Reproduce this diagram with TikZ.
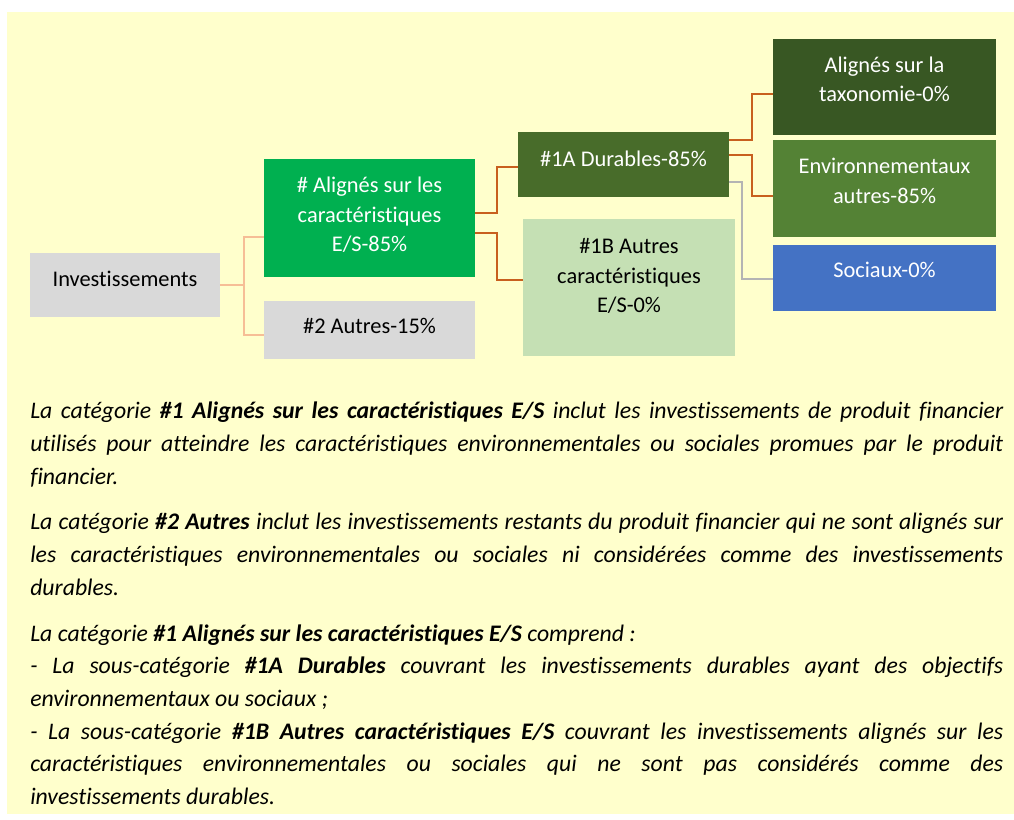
\documentclass[tikz,border=0pt]{standalone}
\usepackage{fontspec}
\setmainfont{Carlito}[Ligatures=NoCommon]
\usepackage{tikz}
\usetikzlibrary{calc}
\definecolor{PaleYellow}{RGB}{255,255,204}
\definecolor{BoxGrey}{RGB}{217,217,217}
\definecolor{BrightGreen}{RGB}{0,176,80}
\definecolor{MossGreen}{RGB}{72,108,42}
\definecolor{DeepGreen}{RGB}{56,87,35}
\definecolor{LeafGreen}{RGB}{84,130,53}
\definecolor{SkyBlue}{RGB}{68,114,196}
\definecolor{MintGreen}{RGB}{197,224,180}
\definecolor{PeachLine}{RGB}{246,190,150}
\definecolor{RustLine}{RGB}{200,96,30}
\definecolor{GreyLine}{RGB}{180,180,180}
\newcommand{\boxfoot}[1][9.3pt]{\rule[-#1]{0pt}{0pt}}

\begin{document}
\begin{tikzpicture}[x=0.75pt, y=-0.75pt,
    catbox/.style={rectangle, inner sep=0pt, align=center,
      font=\fontsize{16.8}{22.1}\selectfont},
    peachline/.style={PeachLine, line width=1.4pt},
    rustline/.style={RustLine, line width=1.4pt},
    greyline/.style={GreyLine, line width=1.2pt},
    notes/.style={anchor=north west, inner sep=0pt, text width=729.75pt,
      align=justify, font=\fontsize{17.8}{24.5}\selectfont\itshape}]
    \useasboundingbox (0,0) rectangle (1014,820);
    \fill[PaleYellow] (7,12) rectangle (1014,814);

    %%Boxes
    \node[catbox, fill=BoxGrey, minimum width=142.5pt, minimum height=48pt]
      (inv) at (125,285) {Investissements\boxfoot};
    \node[catbox, fill=BrightGreen, text=white, minimum width=158.25pt, minimum height=88.5pt]
      (ali) at (369.5,218) {\# Alignés sur les\\caractéristiques\\E/S-85\%\boxfoot[5.3pt]};
    \node[catbox, fill=BoxGrey, minimum width=158.25pt, minimum height=43.5pt]
      (oth) at (369.5,330) {\#2 Autres-15\%\boxfoot[6.3pt]};
    \node[catbox, fill=MossGreen, text=white, minimum width=158.25pt, minimum height=48.75pt]
      (dur) at (623.5,164.5) {\#1A Durables-85\%\boxfoot};
    \node[catbox, fill=MintGreen, minimum width=159pt, minimum height=102.75pt]
      (aut) at (629,287.5) {\#1B Autres\\caractéristiques\\E/S-0\%\boxfoot[17.6pt]};
    \node[catbox, fill=DeepGreen, text=white, minimum width=167.25pt, minimum height=72pt]
      (tax) at (884.5,87) {Alignés sur la\\taxonomie-0\%\boxfoot[11.6pt]};
    \node[catbox, fill=LeafGreen, text=white, minimum width=167.25pt, minimum height=72.75pt]
      (env) at (884.5,188.5) {Environnementaux\\autres-85\%\boxfoot[11.6pt]};
    \node[catbox, fill=SkyBlue, text=white, minimum width=167.25pt, minimum height=49.5pt]
      (soc) at (884.5,278) {Sociaux-0\%\boxfoot[11.6pt]};

    %% Connectors
    \draw[peachline] (inv.east) -- ++(24,0) |- ($(ali.west)+(0,19)$);
    \draw[peachline] (inv.east) -- ++(24,0) |- ($(oth.west)+(0,5)$);
    \draw[rustline] ($(ali.east)+(0,-5)$) -- ++(22,0) |- ($(dur.west)+(0,2.5)$);
    \draw[rustline] ($(ali.east)+(0,15)$) -- ++(22,0) |- ($(aut.west)+(0,-7.5)$);
    \draw[rustline] ($(dur.east)+(0,-24.5)$) -- ++(23,0) |- ($(tax.west)+(0,7)$);
    \draw[rustline] ($(dur.east)+(0,-9.5)$) -- ++(23,0) |- ($(env.west)+(0,7.5)$);
    \draw[greyline] ($(dur.east)+(0,17.5)$) -- ++(13,0) |- ($(soc.west)+(0,1)$);

    %% Notes below
    \node[notes] (txt) at (30,402) {\hyphenpenalty=10000\exhyphenpenalty=10000
      La catégorie \textbf{\#1 Alignés sur les caractéristiques E/S} inclut les investissements de produit financier\linebreak
      utilisés pour atteindre les caractéristiques environnementales ou sociales promues par le produit\linebreak
      financier.\par\vspace{9.8pt}
      La catégorie \textbf{\#2 Autres} inclut les investissements restants du produit financier qui ne sont alignés sur\linebreak
      les caractéristiques environnementales ou sociales ni considérées comme des investissements\linebreak
      durables.\par\vspace{9.8pt}
      La catégorie \textbf{\#1 Alignés sur les caractéristiques E/S} comprend~:\newline
      - La sous-catégorie \textbf{\#1A Durables} couvrant les investissements durables ayant des objectifs\linebreak
      environnementaux ou sociaux~;\newline
      - La sous-catégorie \textbf{\#1B Autres caractéristiques E/S} couvrant les investissements alignés sur les\linebreak
      caractéristiques environnementales ou sociales qui ne sont pas considérés comme des\linebreak
      investissements durables.};
\end{tikzpicture}
\end{document}
